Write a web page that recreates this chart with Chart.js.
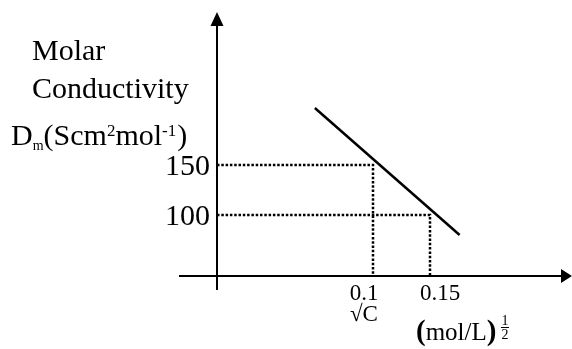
<!DOCTYPE html>
<html>
<head>
<meta charset="utf-8">
<script src="https://cdn.jsdelivr.net/npm/chart.js@4/dist/chart.umd.min.js"></script>
<style>
  html, body { margin: 0; padding: 0; background: #fff; }
  #wrap { width: 572px; height: 349px; }
</style>
</head>
<body>
<div id="wrap"><canvas id="chart" width="572" height="349"></canvas></div>
<script>
// line: sqrt(C) vs molar conductivity
const lineX = [0.049, 0.176];
const lineY = [207, 80];

// dotted guide points and their tick labels
const refX = [0.1, 0.15];
const refY = [150, 100];
const xTickLabels = ['0.1', '0.15'];
const yTickLabels = ['150', '100'];

// axis origin / extent (the sketch is not drawn to scale)
const X_MIN = -0.036842, X_MAX = 0.273684;
const Y_MIN = 39, Y_MAX = 302;

const SERIF = '"Liberation Serif", "Times New Roman", serif';

const linePoints = lineX.map((x, i) => ({ x: x, y: lineY[i] }));

const guideSets = refX.map((x, i) => ({
  data: [{ x: X_MIN, y: refY[i] }, { x: x, y: refY[i] }, { x: x, y: Y_MIN }],
  showLine: true,
  borderColor: '#000',
  borderWidth: 2.5,
  borderDash: [2.5, 1.8],
  pointRadius: 0,
  clip: false
}));

function runText(ctx, x, y, parts) {
  parts.forEach(p => {
    ctx.font = (p.bold ? 'bold ' : '') + p.size + 'px ' + SERIF;
    ctx.fillText(p.t, x, y + (p.dy || 0));
    x += ctx.measureText(p.t).width + (p.gap || 0);
  });
}

const sketchAxes = {
  id: 'sketchAxes',
  afterDraw(chart) {
    const ctx = chart.ctx;
    const xs = chart.scales.x, ys = chart.scales.y;
    const ox = Math.round(xs.getPixelForValue(X_MIN));
    const oy = Math.round(ys.getPixelForValue(Y_MIN));
    ctx.save();
    ctx.fillStyle = '#000';
    ctx.strokeStyle = '#000';
    ctx.lineWidth = 2;

    // y axis with arrow
    ctx.beginPath();
    ctx.moveTo(ox, 290);
    ctx.lineTo(ox, 24);
    ctx.stroke();
    ctx.beginPath();
    ctx.moveTo(ox, 12);
    ctx.lineTo(ox - 6.5, 26);
    ctx.lineTo(ox + 6.5, 26);
    ctx.closePath();
    ctx.fill();

    // x axis with arrow
    ctx.beginPath();
    ctx.moveTo(179, oy);
    ctx.lineTo(562, oy);
    ctx.stroke();
    ctx.beginPath();
    ctx.moveTo(572, oy);
    ctx.lineTo(561, oy - 7);
    ctx.lineTo(561, oy + 7);
    ctx.closePath();
    ctx.fill();

    // y tick labels
    ctx.textAlign = 'right';
    ctx.textBaseline = 'alphabetic';
    ctx.font = '30px ' + SERIF;
    yTickLabels.forEach((t, i) => {
      ctx.fillText(t, 210, ys.getPixelForValue(refY[i]) + 10);
    });

    // x tick labels
    ctx.textAlign = 'center';
    ctx.font = '23px ' + SERIF;
    const xOff = [-9, 10];
    xTickLabels.forEach((t, i) => {
      ctx.fillText(t, xs.getPixelForValue(refX[i]) + xOff[i], 300);
    });

    // y title
    ctx.textAlign = 'left';
    ctx.font = '30px ' + SERIF;
    ctx.fillText('Molar', 32, 60);
    ctx.fillText('Conductivity', 32, 98);
    runText(ctx, 11, 145, [
      { t: 'D', size: 30 },
      { t: 'm', size: 14, dy: 5 },
      { t: '(Scm', size: 30 },
      { t: '2', size: 17, dy: -9 },
      { t: 'mol', size: 30 },
      { t: '-1', size: 17, dy: -9, gap: 1 },
      { t: ')', size: 30 }
    ]);

    // x title
    ctx.font = '23px ' + SERIF;
    ctx.fillText('\u221AC', 350, 321);
    runText(ctx, 416, 340, [
      { t: '(', size: 29, bold: true },
      { t: 'mol/L', size: 25 },
      { t: ')', size: 29, bold: true }
    ]);
    ctx.font = '14px ' + SERIF;
    ctx.textAlign = 'center';
    ctx.fillText('1', 505, 325);
    ctx.fillText('2', 505, 339);
    ctx.lineWidth = 1;
    ctx.beginPath();
    ctx.moveTo(501, 327.5);
    ctx.lineTo(509, 327.5);
    ctx.stroke();
    ctx.restore();
  }
};

new Chart(document.getElementById('chart'), {
  type: 'scatter',
  data: {
    datasets: [{
      data: linePoints,
      showLine: true,
      borderColor: '#000',
      borderWidth: 2.5,
      pointRadius: 0,
      clip: false
    }].concat(guideSets)
  },
  options: {
    responsive: false,
    animation: false,
    layout: { padding: { left: 217, right: 1, top: 13, bottom: 73 } },
    plugins: { legend: { display: false }, tooltip: { enabled: false } },
    scales: {
      x: { type: 'linear', min: X_MIN, max: X_MAX, display: false },
      y: { type: 'linear', min: Y_MIN, max: Y_MAX, display: false }
    }
  },
  plugins: [sketchAxes]
});
</script>
</body>
</html>
